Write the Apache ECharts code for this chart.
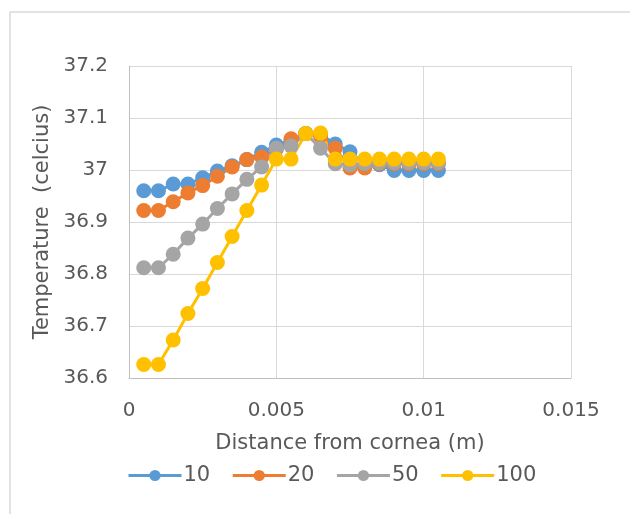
<!DOCTYPE html>
<html>
<head>
<meta charset="utf-8">
<script src="https://cdn.jsdelivr.net/npm/echarts@6/dist/echarts.min.js"></script>
<style>
  html, body { margin: 0; padding: 0; background: #fff; }
  #chart { width: 630px; height: 514px; }
</style>
</head>
<body>
<div id="chart"></div>
<script>
// distance from cornea (m)
var distance = [0.0005, 0.001, 0.0015, 0.002, 0.0025, 0.003, 0.0035, 0.004, 0.0045, 0.005,
                0.0055, 0.006, 0.0065, 0.007, 0.0075, 0.008, 0.0085, 0.009, 0.0095, 0.01, 0.0105];
var seriesNames = ['10', '20', '50', '100'];
var t10  = [36.960, 36.960, 36.973, 36.973, 36.985, 36.998, 37.008, 37.020, 37.034, 37.048,
            37.058, 37.070, 37.068, 37.050, 37.035, 37.010, 37.010, 36.999, 36.999, 36.999, 36.999];
var t20  = [36.922, 36.922, 36.939, 36.956, 36.970, 36.988, 37.006, 37.020, 37.025, 37.040,
            37.060, 37.070, 37.066, 37.042, 37.004, 37.004, 37.012, 37.012, 37.012, 37.012, 37.012];
var t50  = [36.812, 36.812, 36.838, 36.869, 36.896, 36.926, 36.954, 36.982, 37.006, 37.042,
            37.046, 37.070, 37.042, 37.012, 37.010, 37.012, 37.014, 37.014, 37.014, 37.014, 37.014];
var t100 = [36.626, 36.626, 36.673, 36.724, 36.772, 36.822, 36.872, 36.922, 36.971, 37.021,
            37.021, 37.070, 37.071, 37.021, 37.021, 37.021, 37.021, 37.021, 37.021, 37.021, 37.021];
var colors = ['#5B9BD5', '#ED7D31', '#A5A5A5', '#FFC000'];

function pairs(ys) {
  return distance.map(function(x, i) { return [x, ys[i]]; });
}

var chart = echarts.init(document.getElementById('chart'));
var font = '"DejaVu Sans", sans-serif';
var allData = [t10, t20, t50, t100];

var option = {
  animation: false,
  color: colors,
  textStyle: { fontFamily: font, color: '#595959' },
  graphic: [{
    type: 'rect',
    shape: { x: 10, y: 12, width: 640, height: 520 },
    style: { fill: 'none', stroke: '#D9D9D9', lineWidth: 1.5 },
    silent: true
  }],
  grid: { left: 129, right: 59, top: 66, bottom: 136 },
  legend: {
    bottom: 23,
    left: 122,
    itemWidth: 53,
    itemHeight: 14,
    itemGap: 21,
    lineStyle: { width: 3 },
    textStyle: { fontSize: 21, color: '#595959', fontFamily: font, padding: [0, 0, 0, -3] },
    data: seriesNames
  },
  xAxis: {
    type: 'value',
    min: 0, max: 0.015, interval: 0.005,
    name: 'Distance from cornea (m)',
    nameLocation: 'middle',
    nameGap: 55,
    nameTextStyle: { fontSize: 21, color: '#595959', fontFamily: font },
    axisLine: { show: true, lineStyle: { color: '#BFBFBF', width: 1 } },
    axisTick: { show: false },
    axisLabel: { fontSize: 20, color: '#595959', margin: 23, fontFamily: font,
      formatter: function(v) { return String(parseFloat(v.toFixed(3))); } },
    splitLine: { show: true, lineStyle: { color: '#D9D9D9', width: 1 } }
  },
  yAxis: {
    type: 'value',
    min: 36.6, max: 37.2, interval: 0.1,
    name: 'Temperature  (celcius)',
    nameLocation: 'middle',
    nameGap: 76,
    nameTextStyle: { fontSize: 21, color: '#595959', fontFamily: font },
    axisLine: { show: true, lineStyle: { color: '#BFBFBF', width: 1 } },
    axisTick: { show: false },
    axisLabel: { fontSize: 20, color: '#595959', margin: 21, fontFamily: font,
      formatter: function(v) { return String(parseFloat(v.toFixed(1))); } },
    splitLine: { show: true, lineStyle: { color: '#D9D9D9', width: 1 } }
  },
  series: seriesNames.map(function(name, i) {
    return {
      name: name,
      type: 'line',
      data: pairs(allData[i]),
      symbol: 'circle',
      symbolSize: 15,
      lineStyle: { width: 3, color: colors[i] },
      itemStyle: { color: colors[i] }
    };
  })
};

chart.setOption(option);
</script>
</body>
</html>
